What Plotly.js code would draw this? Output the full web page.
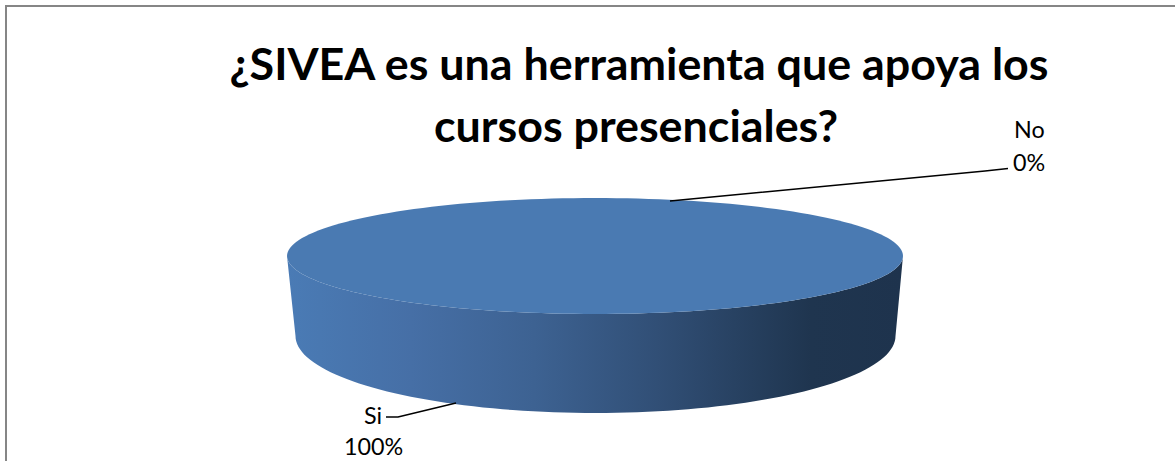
<!DOCTYPE html>
<html><head><meta charset="utf-8">
<script src="https://cdn.plot.ly/plotly-3.0.1.min.js"></script>
<style>html,body{margin:0;padding:0;background:#fff}#c{width:1175px;height:461px}</style></head>
<body><div id="c"></div>
<script>
const categories = ['Si', 'No'];
const values = [100, 0];
const titleLine1 = '¿SIVEA es una herramienta que apoya los';
const titleLine2 = 'cursos presenciales?';
const topColor = '#4a7ab2';
const wallStops = [[0, '#4a7bb5'], [0.2, '#466fa6'], [0.4, '#3d6292'], [0.6, '#314f76'], [0.85, '#1f354f'], [1, '#1e334d']];

const total = values.reduce((a, b) => a + b, 0);
const top_ = {cx: 595, cy: 256, rx: 308, ry: 58};
const bot = {cx: 595.5, cy: 336, rx: 300, ry: 77};
const startDeg = 14;
function ell(e, deg) {
  const r = deg * Math.PI / 180;
  return [e.cx + e.rx * Math.sin(r), e.cy - e.ry * Math.cos(r)];
}
const traces = [];
// Side wall: the front half, between the rim and the base
(function () {
  const xs = [], ys = [];
  for (let d = 90; d <= 270; d += 2) { const p = ell(top_, d); xs.push(p[0]); ys.push(p[1]); }
  for (let d = 270; d >= 90; d -= 2) { const p = ell(bot, d); xs.push(p[0]); ys.push(p[1]); }
  xs.push(xs[0]); ys.push(ys[0]);
  traces.push({type: 'scatter', mode: 'none', x: xs, y: ys, fill: 'toself', hoverinfo: 'skip',
    fillgradient: {type: 'horizontal', colorscale: wallStops, start: 288, stop: 903}, showlegend: false});
})();
// Top face: one wedge per category, swept by its share
let cum = startDeg;
categories.forEach((name, i) => {
  const sweep = 360 * values[i] / total;
  if (sweep > 0) {
    const xs = [], ys = [];
    for (let k = 0; k <= 180; k++) { const p = ell(top_, cum + sweep * k / 180); xs.push(p[0]); ys.push(p[1]); }
    if (sweep < 360) { xs.push(top_.cx); ys.push(top_.cy); }
    xs.push(xs[0]); ys.push(ys[0]);
    traces.push({type: 'scatter', mode: 'none', x: xs, y: ys, fill: 'toself', fillcolor: topColor,
      name: name, hoverinfo: 'name', showlegend: false});
  }
  cum += sweep;
});

const pct = (i) => Math.round(100 * values[i] / total) + '%';
const f = {family: 'Lato, sans-serif', size: 23.3, color: '#000'};
const tf = {family: 'Lato, sans-serif', size: 44.8, color: '#000'};
const note = (x, y, text, font) => ({x, y, xref: 'x', yref: 'y', text, showarrow: false, font, align: 'center', xanchor: 'center', yanchor: 'middle', borderpad: 0, borderwidth: 0});
const annotations = [
  note(1029, 129, categories[1], f),
  note(1029, 162, pct(1), f),
  note(373, 415, categories[0], f),
  note(373, 446, pct(0), f),
  note(636, 125, '<b>' + titleLine2 + '</b>', tf)
];
const ln = {color: '#000', width: 1.6};
const shapes = [
  {type: 'path', xref: 'x', yref: 'y', path: 'M6,461 L6,6 L1175,6', line: {color: '#868686', width: 2}},
  {type: 'path', xref: 'x', yref: 'y', path: 'M670,201 L985,171 L1008,168.5', line: ln},
  {type: 'path', xref: 'x', yref: 'y', path: 'M456,403 L398,417 L386,417', line: ln}
];
Plotly.newPlot('c', traces, {
  width: 1175, height: 461, margin: {l: 0, r: 0, t: 0, b: 0, pad: 0},
  paper_bgcolor: '#fff', plot_bgcolor: '#fff', showlegend: false,
  title: {text: '<b>' + titleLine1 + '</b>', x: 639 / 1175, xanchor: 'center', y: 1 - 64 / 461, yref: 'container', yanchor: 'middle',
    font: tf, automargin: false},
  xaxis: {range: [0, 1175], visible: false, fixedrange: true},
  yaxis: {range: [461, 0], visible: false, fixedrange: true},
  annotations, shapes
}, {displayModeBar: false, staticPlot: true});
</script></body></html>
